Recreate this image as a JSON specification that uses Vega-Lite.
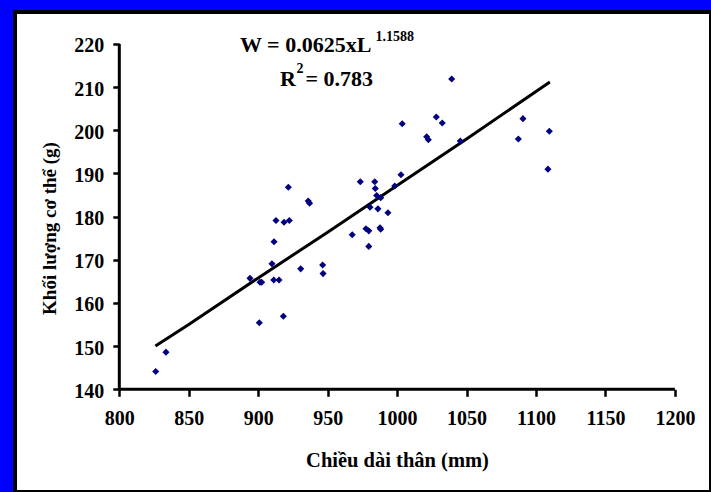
{
  "$schema": "https://vega.github.io/schema/vega-lite/v6.json",
  "width": 696,
  "height": 480,
  "autosize": "none",
  "padding": {"left": 15, "top": 12, "right": 0, "bottom": 0},
  "background": "#0000FF",
  "config": {
    "view": {"fill": "white", "stroke": "black", "strokeWidth": 4},
    "axis": {
      "grid": false,
      "domain": false,
      "ticks": true,
      "tickColor": "black",
      "tickWidth": 2.5,
      "format": "d",
      "labelFont": "Liberation Serif",
      "labelFontWeight": "bold",
      "labelFontSize": 20,
      "labelColor": "black",
      "titleFont": "Liberation Serif",
      "titleFontWeight": "bold",
      "titleColor": "black"
    }
  },
  "datasets": {
    "points": [
      {"x": 826.2, "y": 144.1}, {"x": 833.6, "y": 148.6}, {"x": 894.1, "y": 165.7},
      {"x": 901.3, "y": 164.8}, {"x": 902.5, "y": 164.8}, {"x": 900.8, "y": 155.4},
      {"x": 909.9, "y": 169.1}, {"x": 911.4, "y": 174.2}, {"x": 911.2, "y": 165.3},
      {"x": 915.0, "y": 165.3}, {"x": 912.8, "y": 179.1}, {"x": 918.6, "y": 178.7},
      {"x": 922.4, "y": 179.1}, {"x": 921.7, "y": 186.8}, {"x": 918.1, "y": 156.9},
      {"x": 930.6, "y": 167.9}, {"x": 936.0, "y": 183.6}, {"x": 937.0, "y": 183.1},
      {"x": 946.4, "y": 168.8}, {"x": 946.7, "y": 166.8}, {"x": 967.7, "y": 175.8},
      {"x": 973.5, "y": 188.1}, {"x": 977.6, "y": 177.2}, {"x": 979.6, "y": 176.7},
      {"x": 979.6, "y": 173.1}, {"x": 983.9, "y": 188.1}, {"x": 984.3, "y": 186.5},
      {"x": 985.3, "y": 184.9}, {"x": 988.2, "y": 184.4}, {"x": 980.5, "y": 182.2},
      {"x": 986.2, "y": 181.8}, {"x": 987.7, "y": 177.4}, {"x": 988.2, "y": 177.1},
      {"x": 993.4, "y": 180.9}, {"x": 998.3, "y": 187.1}, {"x": 1002.8, "y": 189.7},
      {"x": 1003.7, "y": 201.5}, {"x": 1028.2, "y": 203.1}, {"x": 1032.5, "y": 201.7},
      {"x": 1021.3, "y": 198.5}, {"x": 1022.5, "y": 197.8}, {"x": 1045.5, "y": 197.5},
      {"x": 1039.3, "y": 211.9}, {"x": 1090.6, "y": 202.7}, {"x": 1087.3, "y": 198.0},
      {"x": 1109.6, "y": 199.8}, {"x": 1108.6, "y": 191.0}
    ],
    "fit": [
      {"x": 826, "y": 150.0}, {"x": 850, "y": 155.0}, {"x": 900, "y": 165.8},
      {"x": 950, "y": 176.4}, {"x": 1000, "y": 187.2}, {"x": 1050, "y": 198.0},
      {"x": 1110, "y": 211.2}
    ],
    "axislines": [
      {"x": 800, "y": 140, "x2": 1200, "y2": 140},
      {"x": 800, "y": 140, "x2": 800, "y2": 220}
    ],
    "labels": [
      {"x": 886.9, "y": 218.15, "t": "W = 0.0625xL"},
      {"x": 915.7, "y": 210.3, "t": "R"},
      {"x": 934.0, "y": 210.3, "t": "= 0.783"}
    ],
    "sups": [
      {"x": 984.4, "y": 220.6, "t": "1.1588"},
      {"x": 927.6, "y": 213.3, "t": "2"}
    ]
  },
  "encoding": {
    "x": {
      "field": "x", "type": "quantitative",
      "scale": {"domain": [724.9, 1226.0], "nice": false, "zero": false},
      "axis": {
        "orient": "bottom",
        "offset": -102.7,
        "values": [800, 850, 900, 950, 1000, 1050, 1100, 1150, 1200],
        "tickSize": 7,
        "labelBaseline": "alphabetic",
        "labelPadding": 28.5,
        "title": "Chiều dài thân (mm)",
        "titleFontSize": 20.5,
        "titleX": 382,
        "titleY": 76.7,
        "titleBaseline": "alphabetic",
        "titleAlign": "center"
      }
    },
    "y": {
      "field": "y", "type": "quantitative",
      "scale": {"domain": [116.2, 227.41], "nice": false, "zero": false},
      "axis": {
        "orient": "left",
        "offset": -104.3,
        "values": [140, 150, 160, 170, 180, 190, 200, 210, 220],
        "tickSize": 6.5,
        "labelPadding": 9,
        "labelOffset": 2,
        "title": "Khối lượng cơ thể (g)",
        "titleFontSize": 19,
        "titleAngle": 270,
        "titleX": -64.3,
        "titleY": 216,
        "titleBaseline": "alphabetic",
        "titleAlign": "center"
      }
    }
  },
  "layer": [
    {
      "data": {"name": "axislines"},
      "mark": {"type": "rule", "color": "black", "strokeWidth": 3},
      "encoding": {
        "x2": {"field": "x2"},
        "y2": {"field": "y2"}
      }
    },
    {
      "data": {"name": "fit"},
      "mark": {"type": "line", "color": "black", "strokeWidth": 3},
      "encoding": {}
    },
    {
      "data": {"name": "points"},
      "mark": {"type": "point", "shape": "diamond", "filled": true, "color": "#000080", "size": 50, "opacity": 1}
    },
    {
      "data": {"name": "labels"},
      "mark": {"type": "text", "align": "left", "baseline": "alphabetic", "font": "Liberation Serif", "fontWeight": "bold", "fontSize": 22, "color": "black"},
      "encoding": {"text": {"field": "t"}}
    },
    {
      "data": {"name": "sups"},
      "mark": {"type": "text", "align": "left", "baseline": "alphabetic", "font": "Liberation Serif", "fontWeight": "bold", "fontSize": 14, "color": "black"},
      "encoding": {"text": {"field": "t"}}
    }
  ]
}
